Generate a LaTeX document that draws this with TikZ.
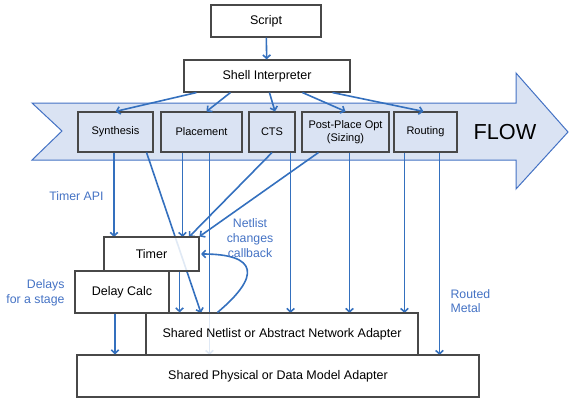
\documentclass[tikz,border=0pt]{standalone}
\usepackage{fontspec}
\setmainfont{Liberation Sans}
\usetikzlibrary{arrows.meta}
\definecolor{flowblue}{RGB}{68,114,196}
\definecolor{flowfill}{RGB}{218,227,243}
\definecolor{linkblue}{RGB}{52,112,190}
\definecolor{boxgray}{RGB}{72,72,72}

\begin{document}
\begin{tikzpicture}[x=1pt,y=-1pt,font=\fontsize{12.5}{15}\selectfont,
  >={Straight Barb[length=3.5pt,width=7.5pt]},
  blk/.style={draw=boxgray,line width=1.1pt,fill=white,fill opacity=.85,text opacity=1,inner sep=0pt},
  stage/.style={draw=boxgray,line width=1.1pt,fill=flowfill,inner sep=0pt,minimum height=40pt,
    align=center,font=\fontsize{11}{13}\selectfont},
  link/.style={->,linkblue,line width=1.6pt},
  note/.style={text=flowblue,font=\fontsize{12.3}{14.8}\selectfont}]
  \useasboundingbox (0,0) rectangle (569,401);

  \node[blk,minimum width=110pt,minimum height=32pt] (script) at (266,21) {Script};
  \node[blk,minimum width=166pt,minimum height=32pt] (shell) at (267,76) {Shell Interpreter};

  \filldraw[draw=flowblue,fill=flowfill,line width=1pt]
    (32,103) -- (516,103) -- (516,73) -- (568,132) -- (516,189) -- (516,160)
    -- (32,160) -- (62,131) -- cycle;

  \node[stage,minimum width=75pt] (synth) at (115.5,132) {Synthesis};
  \node[stage,minimum width=81pt] (place) at (201.5,132) {Placement};
  \node[stage,minimum width=46pt] (cts) at (272,132) {CTS};
  \node[stage,minimum width=87pt] (ppo) at (345.5,132) {Post-Place Opt\\(Sizing)};
  \node[stage,minimum width=63pt] (route) at (425.5,132) {Routing};
  \node[font=\fontsize{21.7}{24}\selectfont] (flow) at (505,132) {FLOW};

  \draw[link] (script) -- (shell);
  \draw[link] ([xshift=13pt]shell.south west) -- (synth.north);
  \draw[link] ([xshift=47pt]shell.south west) -- ([xshift=5pt]place.north);
  \draw[link] ([xshift=86pt]shell.south west) -- ([xshift=3pt]cts.north);
  \draw[link] ([xshift=119pt]shell.south west) -- (ppo.north);
  \draw[link] ([xshift=149pt]shell.south west) -- ([xshift=-2pt]route.north);

  \coordinate (timertop) at (151.5,237);
  \coordinate (netltop) at (282,313);
  \coordinate (phystop) at (278,355);

  \draw[link] ([xshift=-1.5pt]synth.south) -- ([xshift=-1.5pt]synth.south |- timertop);
  \draw[link] ([xshift=-7pt]synth.south east) -- (201,313);
  \draw[link] ([xshift=22pt]place.south west) -- ([xshift=22pt]place.south west |- timertop);
  \draw[link] ([xshift=49pt]place.south west) -- ([xshift=49pt]place.south west |- phystop);
  \draw[link] (cts.south) -- (189,237);
  \draw[link] ([xshift=17pt]ppo.south west) -- (199.5,236.5);
  \draw[link] ([xshift=-5pt]cts.south east) -- ([xshift=-5pt]cts.south east |- netltop);
  \draw[link] ([xshift=4pt]ppo.south) -- ([xshift=4pt]ppo.south |- netltop);
  \draw[link] ([xshift=11pt]route.south west) -- ([xshift=11pt]route.south west |- netltop);
  \draw[link] ([xshift=46pt]route.south west) -- ([xshift=46pt]route.south west |- phystop);

  \node[blk,minimum width=95pt,minimum height=34pt] (timer) at (151.5,254) {Timer};
  \node[blk,minimum width=94pt,minimum height=42pt] (delay) at (122,292) {Delay Calc};
  \node[blk,minimum width=272pt,minimum height=42pt] (netl) at (282,334)
    {Shared Netlist or Abstract Network Adapter};
  \node[blk,minimum width=402pt,minimum height=42pt] (phys) at (278,376)
    {Shared Physical or Data Model Adapter};

  \draw[link] ([xshift=-20pt]timer.south east) -- ([xshift=-20pt]timer.south east |- netl.north);
  \draw[link] ([xshift=-7pt]delay.south) -- ([xshift=-7pt]delay.south |- phys.north);
  \draw[link] ([xshift=72pt]netl.north west) to[out=40,in=0,looseness=2.4] ([xshift=1.5pt]timer.east);

  \node[note,anchor=east] (api) at (107,196) {Timer API};
  \node[note,anchor=east,align=right] (delays) at (68,293) {Delays\\for a stage};
  \node[note,align=center] (callback) at (250,238) {Netlist\\changes\\callback};
  \node[note,anchor=west,align=left] (metal) at (447,301) {Routed\\Metal};
\end{tikzpicture}
\end{document}
